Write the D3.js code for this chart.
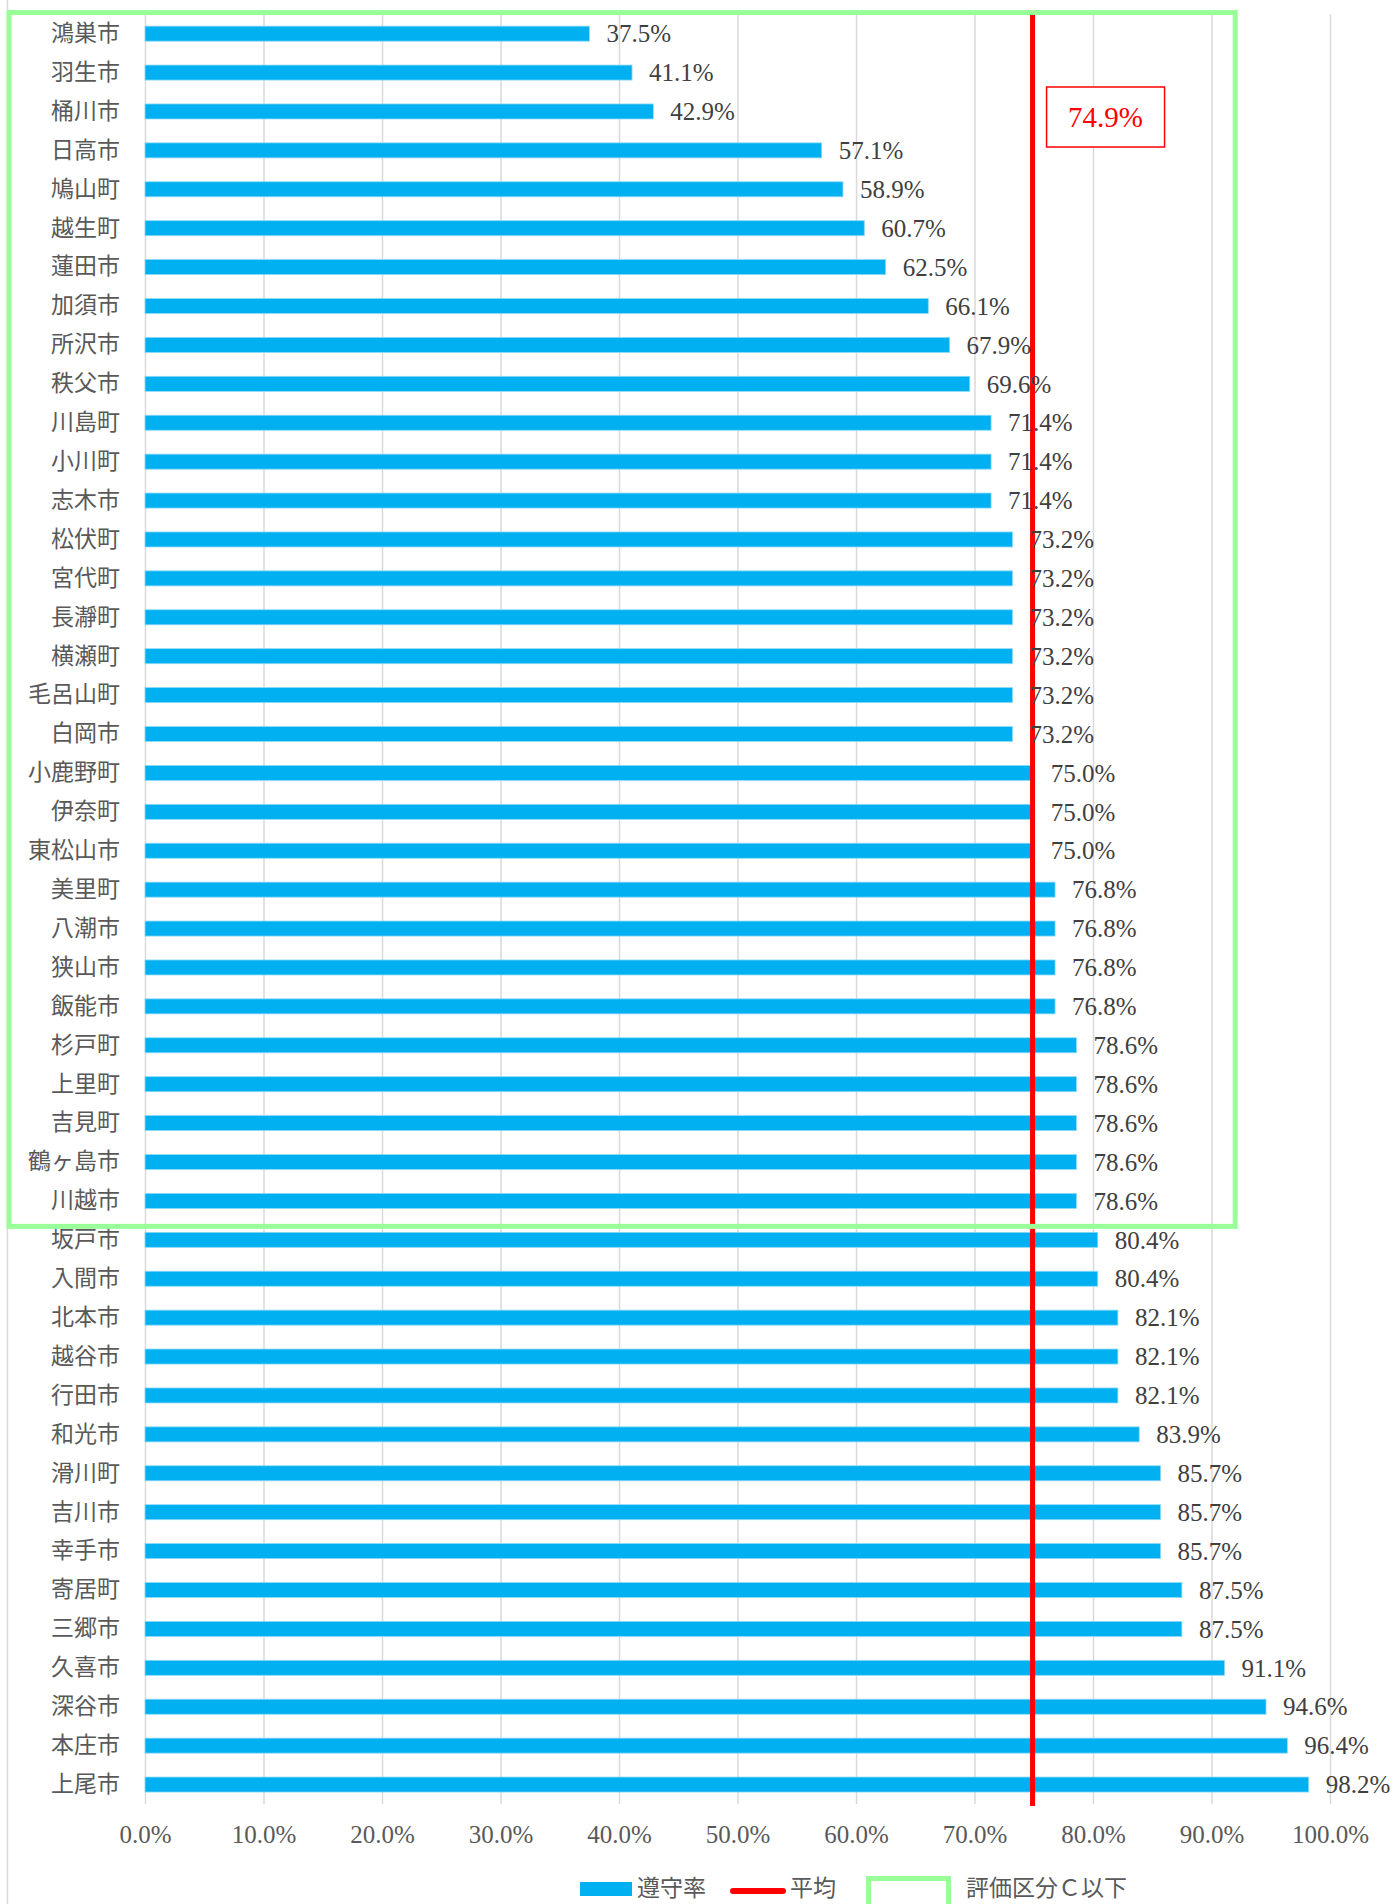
<!DOCTYPE html>
<html>
<head>
<meta charset="utf-8">
<script src="https://cdn.jsdelivr.net/npm/d3@7"></script>
<style>
	body { margin: 0; background: #fff; }
	.cat { font-family: "Noto Sans CJK JP", sans-serif; font-size: 23px; fill: #595959; }
	.num { font-family: "Liberation Serif", serif; }
</style>
</head>
<body>
<div id="chart"></div>
<script>

// data (遵守率 per municipality)
var cities = ["鴻巣市","羽生市","桶川市","日高市","鳩山町","越生町","蓮田市","加須市","所沢市","秩父市",
	"川島町","小川町","志木市","松伏町","宮代町","長瀞町","横瀬町","毛呂山町","白岡市","小鹿野町",
	"伊奈町","東松山市","美里町","八潮市","狭山市","飯能市","杉戸町","上里町","吉見町","鶴ヶ島市",
	"川越市","坂戸市","入間市","北本市","越谷市","行田市","和光市","滑川町","吉川市","幸手市",
	"寄居町","三郷市","久喜市","深谷市","本庄市","上尾市"];
var rates = [0.375,0.411,0.429,0.571,0.589,0.607,0.625,0.661,0.679,0.696,
	0.714,0.714,0.714,0.732,0.732,0.732,0.732,0.732,0.732,0.750,
	0.750,0.750,0.768,0.768,0.768,0.768,0.786,0.786,0.786,0.786,
	0.786,0.804,0.804,0.821,0.821,0.821,0.839,0.857,0.857,0.857,
	0.875,0.875,0.911,0.946,0.964,0.982];
var average = 0.749;
var xTicks = [0,0.1,0.2,0.3,0.4,0.5,0.6,0.7,0.8,0.9,1.0];

// 評価区分C以下 box: from first city down to this one, up to this rate
var lowGroupLast = "川越市";
var lowGroupMax = 0.92;

var legendNames = ["遵守率","平均","評価区分Ｃ以下"];

function barChart(){

	// Creating margins and figure sizes
	var W = 1395, H = 1904;
	var margin = { top: 14.2, right: 65, bottom: 100, left: 145 },
		width = W - margin.left - margin.right,
		height = H - margin.top - margin.bottom;

	var svg = d3.select("#chart").append("svg")
		.attr("width", W)
		.attr("height", H);

	// chart area left border
	svg.append("line")
		.attr("x1", 7.5).attr("x2", 7.5)
		.attr("y1", 0).attr("y2", H)
		.attr("stroke", "#d9d9d9").attr("stroke-width", 1.5);

	var g = svg.append("g")
		.attr("transform", "translate(" + margin.left + "," + margin.top + ")");

	// Scales
	var pad = 0.614;
	var xScale = d3.scaleLinear().domain([0, 1]).range([0, width]);
	var yScale = d3.scaleBand().domain(cities).range([0, height])
		.paddingInner(pad).paddingOuter(pad / 2);
	var step = yScale.step();

	// vertical gridlines
	g.append("g")
		.attr("class", "grid")
		.call(d3.axisBottom(xScale).tickValues(xTicks).tickSize(height).tickFormat(""))
		.call(function(s){
			s.select(".domain").remove();
			s.selectAll("line").attr("stroke", "#d9d9d9").attr("stroke-width", 1.5);
		});

	// x axis labels
	g.append("g")
		.attr("transform", "translate(0," + height + ")")
		.call(d3.axisBottom(xScale).tickValues(xTicks).tickSize(0).tickPadding(21).tickFormat(d3.format(".1%")))
		.call(function(s){
			s.select(".domain").remove();
			s.selectAll("text")
				.attr("class", "num")
				.attr("font-size", "25px")
				.attr("fill", "#595959");
		});

	// category labels
	g.append("g")
		.call(d3.axisLeft(yScale).tickSize(0).tickPadding(25))
		.call(function(s){
			s.select(".domain").remove();
			s.selectAll("text").attr("class", "cat").attr("font-family", null).attr("font-size", null).attr("fill", null);
		});

	var rows = cities.map(function(c, i){ return { name: c, value: rates[i] }; });

	// bars
	g.selectAll(".bar")
		.data(rows)
		.enter().append("rect")
		.attr("class", "bar")
		.attr("x", xScale(0))
		.attr("y", function(d){ return yScale(d.name); })
		.attr("width", function(d){ return xScale(d.value); })
		.attr("height", yScale.bandwidth())
		.attr("fill", "#00B0F0")
		.attr("stroke", "#8fd9f7")
		.attr("stroke-width", 0.8);

	// average line
	g.append("line")
		.attr("x1", xScale(average)).attr("x2", xScale(average))
		.attr("y1", 0).attr("y2", height + 2)
		.attr("stroke", "#FF0000")
		.attr("stroke-width", 5);

	// value labels
	g.selectAll(".val")
		.data(rows)
		.enter().append("text")
		.attr("class", "num")
		.attr("x", function(d){ return xScale(d.value) + 17; })
		.attr("y", function(d){ return yScale(d.name) + yScale.bandwidth() / 2; })
		.attr("dy", "0.35em")
		.attr("font-size", "25px")
		.attr("fill", "#404040")
		.text(function(d){ return d3.format(".1%")(d.value); });

	// 評価区分C以下 box
	var boxBottom = yScale(lowGroupLast) + yScale.bandwidth() + step * pad / 2 + 6;
	svg.append("rect")
		.attr("x", 9)
		.attr("y", 12.5)
		.attr("width", margin.left + xScale(lowGroupMax) - 9)
		.attr("height", margin.top + boxBottom - 12.5)
		.attr("fill", "none")
		.attr("stroke", "#99FF99")
		.attr("stroke-width", 5);

	// average callout
	var ax = margin.left + xScale(average);
	svg.append("rect")
		.attr("x", ax + 14).attr("y", 87)
		.attr("width", 118).attr("height", 60)
		.attr("fill", "#fff")
		.attr("stroke", "#FF0000")
		.attr("stroke-width", 1.5);
	svg.append("text")
		.attr("class", "num")
		.attr("x", ax + 14 + 59).attr("y", 117)
		.attr("dy", "0.35em")
		.attr("text-anchor", "middle")
		.attr("font-size", "29px")
		.attr("fill", "#FF0000")
		.text(d3.format(".1%")(average));

	// Legend
	var lg = svg.append("g").attr("transform", "translate(0,1888)");
	lg.append("rect")
		.attr("x", 580).attr("y", -6).attr("width", 52).attr("height", 14)
		.attr("fill", "#00B0F0");
	lg.append("text").attr("class", "cat")
		.attr("x", 637).attr("dy", "0.35em").text(legendNames[0]);
	lg.append("line")
		.attr("x1", 733).attr("x2", 783).attr("y1", 3).attr("y2", 3)
		.attr("stroke", "#FF0000").attr("stroke-width", 6).attr("stroke-linecap", "round");
	lg.append("text").attr("class", "cat")
		.attr("x", 790).attr("dy", "0.35em").text(legendNames[1]);
	lg.append("rect")
		.attr("x", 868.5).attr("y", -9.5).attr("width", 80).attr("height", 30)
		.attr("fill", "none")
		.attr("stroke", "#99FF99").attr("stroke-width", 5);
	lg.append("text").attr("class", "cat")
		.attr("x", 966).attr("dy", "0.35em").text(legendNames[2]);
}

barChart();
</script>
</body>
</html>
